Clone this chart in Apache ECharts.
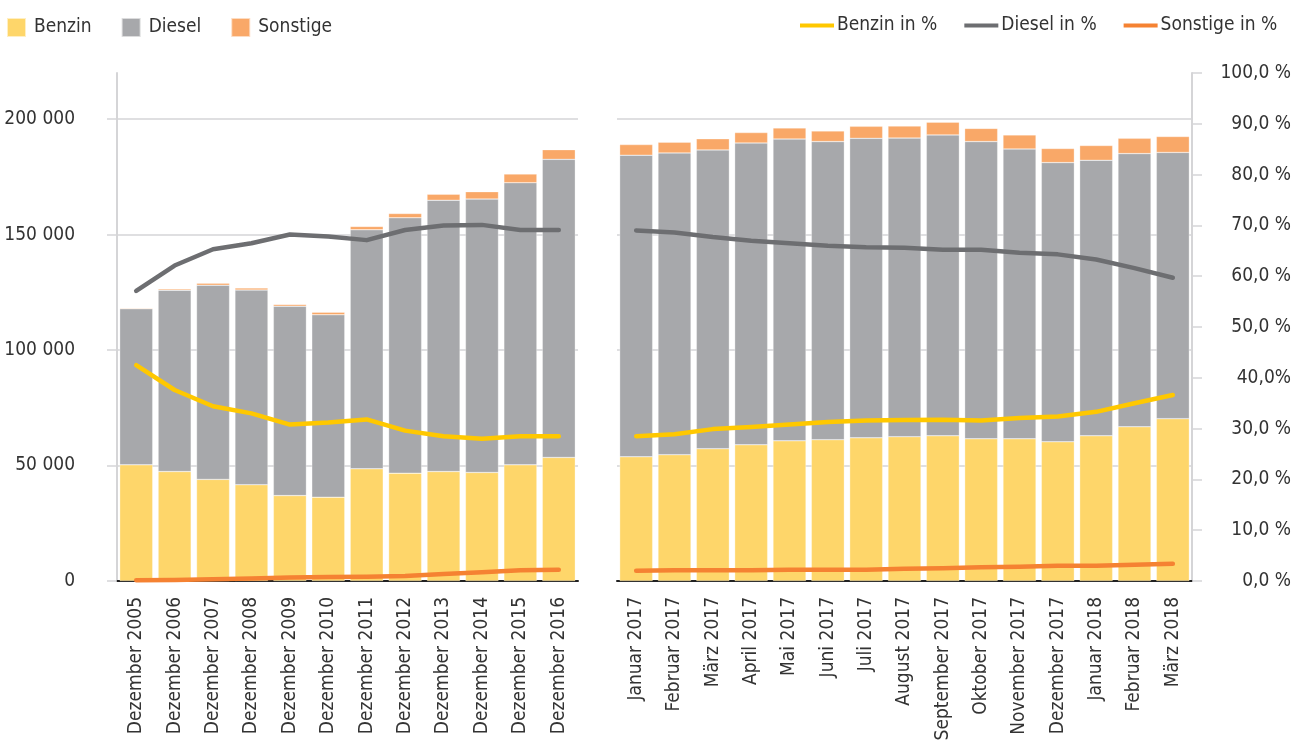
<!DOCTYPE html>
<html>
<head>
    <meta charset="utf-8" />
    <title>Benzin / Diesel / Sonstige</title>
    <style>
        html, body { margin: 0; padding: 0; background: #fff; }
        #chart { width: 1308px; height: 743px; }
    </style>
</head>
<body>
    <div id="chart"></div>

    <script src="https://cdn.jsdelivr.net/npm/echarts@6/dist/echarts.min.js"></script>
    <script>
        // Daten
        // ------------------------------------------------------
        var yearCats = ['Dezember 2005', 'Dezember 2006', 'Dezember 2007', 'Dezember 2008', 'Dezember 2009', 'Dezember 2010',
            'Dezember 2011', 'Dezember 2012', 'Dezember 2013', 'Dezember 2014', 'Dezember 2015', 'Dezember 2016'];
        var monthCats = ['Januar 2017', 'Februar 2017', 'März 2017', 'April 2017', 'Mai 2017', 'Juni 2017', 'Juli 2017',
            'August 2017', 'September 2017', 'Oktober 2017', 'November 2017', 'Dezember 2017',
            'Januar 2018', 'Februar 2018', 'März 2018'];

        // Bestand (Balken)
        var benzinYear   = [50300, 47400, 44000, 41700, 37000, 36300, 48600, 46700, 47400, 47000, 50300, 53500];
        var dieselYear   = [67600, 78500, 84100, 84300, 82000, 79000, 103500, 110600, 117500, 118400, 122200, 129100];
        var sonstigeYear = [300, 600, 900, 900, 750, 1100, 1450, 1850, 2600, 3200, 3750, 4200];

        var benzinMonth   = [53800, 54700, 57300, 59000, 60700, 61200, 62000, 62500, 62900, 61600, 61600, 60300, 62900, 66800, 70300];
        var dieselMonth   = [130600, 130700, 129400, 130700, 130700, 129100, 129700, 129300, 130300, 128700, 125500, 120900, 119300, 118300, 115300];
        var sonstigeMonth = [4600, 4600, 4800, 4500, 4800, 4600, 5200, 5200, 5500, 5700, 6100, 6100, 6400, 6600, 6900];

        // Anteile in % (Linien)
        var benzinPctYear   = [42.5, 37.6, 34.4, 33.0, 30.8, 31.2, 31.8, 29.6, 28.5, 28.0, 28.5, 28.5];
        var dieselPctYear   = [57.1, 62.1, 65.3, 66.5, 68.2, 67.8, 67.1, 69.1, 70.0, 70.1, 69.1, 69.1];
        var sonstigePctYear = [0.15, 0.2, 0.35, 0.5, 0.7, 0.8, 0.85, 1.0, 1.4, 1.7, 2.1, 2.2];

        var benzinPctMonth   = [28.5, 28.9, 29.9, 30.3, 30.8, 31.3, 31.6, 31.7, 31.75, 31.6, 32.1, 32.4, 33.3, 35.0, 36.6];
        var dieselPctMonth   = [69.0, 68.6, 67.7, 67.0, 66.5, 66.0, 65.7, 65.6, 65.2, 65.2, 64.6, 64.3, 63.3, 61.6, 59.7];
        var sonstigePctMonth = [2.0, 2.1, 2.1, 2.1, 2.2, 2.2, 2.2, 2.4, 2.5, 2.7, 2.8, 3.0, 3.0, 3.2, 3.4];

        // Achsen
        var countTicks  = [0, 50000, 100000, 150000, 200000];
        var countLabels = ['0', '50 000', '100 000', '150 000', '200 000'];
        var pctTicks  = [0, 10, 20, 30, 40, 50, 60, 70, 80, 90, 100];
        var pctLabels = ['0,0 %', '10,0 %', '20,0 %', '30,0 %', '40,0%', '50,0 %', '60,0 %', '70,0 %', '80,0 %', '90,0 %', '100,0 %'];

        // Stil
        // ------------------------------------------------------
        var FONT = "'DejaVu Sans Condensed', 'Liberation Sans Narrow', sans-serif";
        var FS = 19;
        var TEXT = '#333';
        var GRID_LINE = '#d5d5d7';
        var C = {
            benzin: '#fed66a', diesel: '#a7a8ab', sonstige: '#f9a868',
            benzinL: '#ffc800', dieselL: '#6d6e71', sonstigeL: '#f58232'
        };

        function catAxis(idx, data) {
            return {
                type: 'category', gridIndex: idx, data: data, offset: 8,
                axisLine: { lineStyle: { color: '#222', width: 2 } },
                axisTick: { length: 10, lineStyle: { color: '#222', width: 2 } },
                axisLabel: { rotate: 90, interval: 0, margin: 8, color: TEXT, fontSize: FS, fontFamily: FONT }
            };
        }

        function bar(name, x, y, stack, data, color) {
            return {
                name: name, type: 'bar', stack: stack, xAxisIndex: x, yAxisIndex: y,
                barWidth: 33, data: data,
                itemStyle: { color: color, borderColor: 'rgba(255,255,255,0.6)', borderWidth: 0.5 }
            };
        }

        function line(name, x, y, data, color) {
            return {
                name: name, type: 'line', xAxisIndex: x, yAxisIndex: y, data: data,
                symbol: 'none', z: 5,
                lineStyle: { color: color, width: 4.5, cap: 'round', join: 'round' },
                itemStyle: { color: color }
            };
        }

        var option = {
            animation: false,
            textStyle: { fontFamily: FONT },
            legend: [{
                left: 6, top: 17, padding: 0, itemWidth: 19, itemHeight: 19, itemGap: 29, icon: 'rect',
                textStyle: { color: TEXT, fontSize: FS, fontFamily: FONT, padding: [0, 0, 0, 3] },
                data: ['Benzin', 'Diesel', 'Sonstige']
            }, {
                left: 800, top: 16, padding: 0, width: 600, itemWidth: 34, itemHeight: 4, itemGap: 27, icon: 'rect',
                textStyle: { color: TEXT, fontSize: FS, fontFamily: FONT, padding: [0, 0, 0, -2] },
                data: ['Benzin in %', 'Diesel in %', 'Sonstige in %']
            }],
            grid: [
                { left: 117, top: 73, width: 461, height: 508, outerBoundsMode: 'none' },
                { left: 617, top: 73, width: 575, height: 508, outerBoundsMode: 'none' }
            ],
            xAxis: [catAxis(0, yearCats), catAxis(1, monthCats)],
            yAxis: [{
                type: 'value', gridIndex: 0, min: 0, max: 220000,
                axisLine: { show: true, lineStyle: { color: GRID_LINE, width: 2 } },
                axisTick: { show: true, length: 10, customValues: countTicks, lineStyle: { color: GRID_LINE, width: 1.5 } },
                axisLabel: {
                    customValues: countTicks, margin: 42, color: TEXT, fontSize: FS, fontFamily: FONT,
                    formatter: function (v) { return countLabels[countTicks.indexOf(v)]; }
                },
                splitLine: { show: true, lineStyle: { color: GRID_LINE, width: 1.5 } }
            }, {
                type: 'value', gridIndex: 0, min: 0, max: 100, show: false, splitLine: { show: false }
            }, {
                type: 'value', gridIndex: 1, min: 0, max: 220000,
                axisLine: { show: false },
                axisTick: { show: false, customValues: countTicks },
                axisLabel: { show: false, customValues: countTicks },
                splitLine: { show: true, lineStyle: { color: GRID_LINE, width: 1.5 } }
            }, {
                type: 'value', gridIndex: 1, position: 'right', min: 0, max: 100, interval: 10,
                axisLine: { show: true, lineStyle: { color: GRID_LINE, width: 2 } },
                axisTick: { show: true, length: 10, lineStyle: { color: GRID_LINE, width: 1.5 } },
                axisLabel: {
                    margin: 99, align: 'right', color: TEXT, fontSize: FS, fontFamily: FONT,
                    formatter: function (v) { return pctLabels[pctTicks.indexOf(v)]; }
                },
                splitLine: { show: false }
            }],
            series: [
                bar('Benzin', 0, 0, 'y', benzinYear, C.benzin),
                bar('Diesel', 0, 0, 'y', dieselYear, C.diesel),
                bar('Sonstige', 0, 0, 'y', sonstigeYear, C.sonstige),
                bar('Benzin', 1, 2, 'm', benzinMonth, C.benzin),
                bar('Diesel', 1, 2, 'm', dieselMonth, C.diesel),
                bar('Sonstige', 1, 2, 'm', sonstigeMonth, C.sonstige),
                line('Benzin in %', 0, 1, benzinPctYear, C.benzinL),
                line('Diesel in %', 0, 1, dieselPctYear, C.dieselL),
                line('Sonstige in %', 0, 1, sonstigePctYear, C.sonstigeL),
                line('Benzin in %', 1, 3, benzinPctMonth, C.benzinL),
                line('Diesel in %', 1, 3, dieselPctMonth, C.dieselL),
                line('Sonstige in %', 1, 3, sonstigePctMonth, C.sonstigeL)
            ]
        };

        var chart = echarts.init(document.getElementById('chart'));
        chart.setOption(option);

        window.addEventListener('resize', function () {
            chart.resize();
        });
    </script>
</body>
</html>
